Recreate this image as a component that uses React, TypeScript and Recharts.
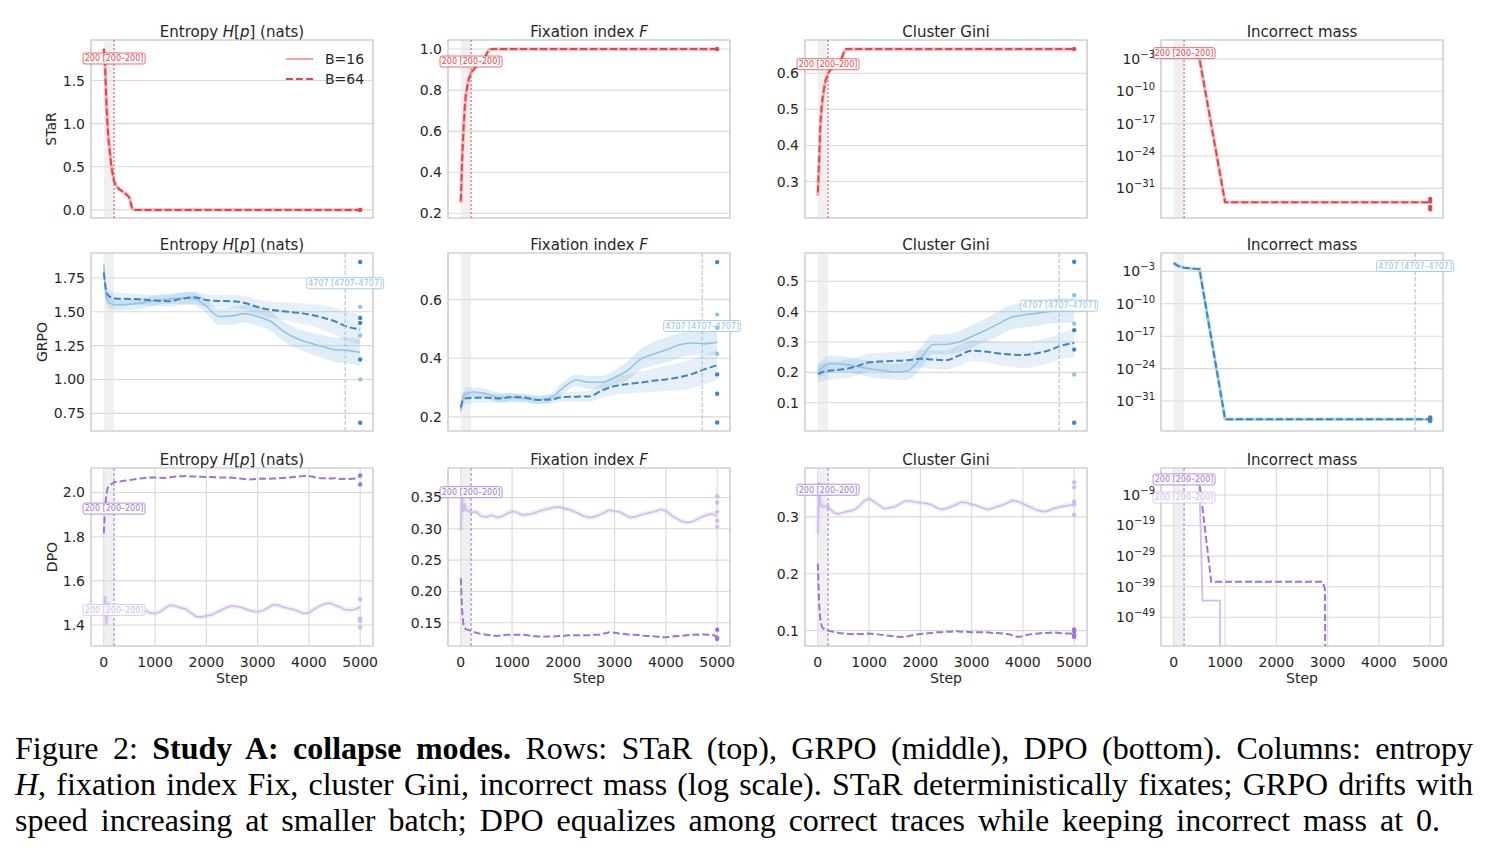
import React from "react";
import {
  ComposedChart,
  Line,
  Area,
  Scatter,
  XAxis,
  YAxis,
  CartesianGrid,
  ReferenceArea,
  ReferenceLine,
} from "recharts";

const FONT = "'DejaVu Sans', sans-serif";
const INK = "#262626";
const GRID = "#d9d9d9";
const RED = "#e3474d";
const RED_L = "#f3a3a6";
const BLUE = "#3a86c6";
const BLUE_L = "#94c3e3";
const PURPLE = "#a073d6";
const PURPLE_L = "#cfbcec";

const COL_X = [91, 448, 805, 1161];
const ROW_Y = [40, 253, 468];
const PW = 282;
const PH = 178;
const YW = 60;
const RM = 40; // room on the right so the step labels are not cut
const X_TICKS = [0, 1000, 2000, 3000, 4000, 5000];

// ---- STaR (top row)
const S_STEPS = [0, 25, 50, 75, 100, 150, 200, 250, 300, 350, 400, 450, 500, 550, 600, 1000, 2000, 3000, 4000, 5000];
const STAR_H_16 = [1.87, 1.67, 1.25, 0.96, 0.78, 0.49, 0.33, 0.27, 0.24, 0.22, 0.2, 0.175, 0.145, 0.02, 0, 0, 0, 0, 0, 0];
const STAR_H_64 = [1.87, 1.66, 1.24, 0.95, 0.77, 0.49, 0.33, 0.27, 0.24, 0.22, 0.2, 0.172, 0.14, 0.02, 0, 0, 0, 0, 0, 0];
const STAR_F_16 = [0.25, 0.45, 0.59, 0.7, 0.78, 0.85, 0.885, 0.9, 0.915, 0.925, 0.935, 0.945, 0.975, 0.997, 1, 1, 1, 1, 1, 1];
const STAR_F_64 = [0.26, 0.46, 0.6, 0.71, 0.78, 0.85, 0.885, 0.9, 0.915, 0.925, 0.935, 0.945, 0.975, 0.997, 1, 1, 1, 1, 1, 1];
const STAR_G_16 = [0.26, 0.35, 0.45, 0.5, 0.535, 0.58, 0.6, 0.61, 0.615, 0.622, 0.628, 0.635, 0.655, 0.667, 0.667, 0.667, 0.667, 0.667, 0.667, 0.667];
const STAR_G_64 = [0.27, 0.36, 0.46, 0.51, 0.54, 0.58, 0.6, 0.61, 0.615, 0.622, 0.628, 0.635, 0.655, 0.667, 0.667, 0.667, 0.667, 0.667, 0.667, 0.667];
const SM_STEPS = [0, 250, 500, 1000, 2000, 3000, 4000, 5000];
const STAR_M = [2e-1, 1e-2, 1.3e-3, 1e-34, 1e-34, 1e-34, 1e-34, 1e-34];
const STAR_END_H = [0, 0];
const STAR_END_F = [1];
const STAR_END_G = [0.667];
const STAR_END_M = [5e-34, 1.5e-34, 1e-35, 3e-36];

// ---- GRPO (middle row)
const G_STEPS = [0, 50, 100, 250, 500, 750, 1000, 1250, 1500, 1750, 2000, 2250, 2500, 2750, 3000, 3250, 3500, 3750, 4000, 4250, 4500, 4750, 5000];
const GRPO_H_64 = [1.79, 1.65, 1.615, 1.597, 1.595, 1.59, 1.583, 1.578, 1.595, 1.607, 1.587, 1.58, 1.578, 1.565, 1.535, 1.515, 1.504, 1.494, 1.48, 1.46, 1.43, 1.39, 1.37];
const GRPO_H_16 = [1.85, 1.6, 1.566, 1.55, 1.555, 1.566, 1.583, 1.595, 1.6, 1.598, 1.54, 1.465, 1.47, 1.485, 1.465, 1.43, 1.357, 1.305, 1.272, 1.245, 1.22, 1.215, 1.2];
const GRPO_H_64_HI = [1.84, 1.7, 1.66, 1.64, 1.635, 1.63, 1.625, 1.62, 1.64, 1.65, 1.63, 1.625, 1.625, 1.615, 1.59, 1.575, 1.57, 1.565, 1.56, 1.55, 1.53, 1.5, 1.48];
const GRPO_H_64_LO = [1.74, 1.6, 1.57, 1.555, 1.555, 1.55, 1.54, 1.535, 1.55, 1.56, 1.54, 1.535, 1.53, 1.515, 1.48, 1.455, 1.44, 1.42, 1.4, 1.37, 1.33, 1.28, 1.26];
const GRPO_H_16_HI = [1.9, 1.65, 1.61, 1.59, 1.595, 1.605, 1.62, 1.635, 1.645, 1.645, 1.59, 1.525, 1.535, 1.55, 1.535, 1.5, 1.43, 1.38, 1.35, 1.33, 1.31, 1.31, 1.3];
const GRPO_H_16_LO = [1.8, 1.55, 1.52, 1.51, 1.515, 1.525, 1.545, 1.555, 1.555, 1.55, 1.49, 1.405, 1.405, 1.42, 1.395, 1.36, 1.285, 1.23, 1.195, 1.16, 1.13, 1.12, 1.1];

const GRPO_F_64 = [0.232, 0.26, 0.264, 0.265, 0.265, 0.263, 0.268, 0.266, 0.258, 0.259, 0.268, 0.269, 0.27, 0.29, 0.305, 0.312, 0.317, 0.323, 0.328, 0.335, 0.346, 0.362, 0.377];
const GRPO_F_16 = [0.22, 0.27, 0.28, 0.285, 0.279, 0.266, 0.266, 0.262, 0.258, 0.265, 0.3, 0.326, 0.318, 0.318, 0.335, 0.358, 0.396, 0.414, 0.428, 0.445, 0.452, 0.45, 0.455];
const GRPO_F_64_HI = [0.25, 0.285, 0.285, 0.285, 0.282, 0.278, 0.282, 0.28, 0.272, 0.274, 0.283, 0.286, 0.29, 0.315, 0.335, 0.345, 0.355, 0.365, 0.375, 0.385, 0.395, 0.41, 0.43];
const GRPO_F_64_LO = [0.215, 0.24, 0.245, 0.247, 0.248, 0.248, 0.254, 0.252, 0.245, 0.245, 0.253, 0.252, 0.252, 0.265, 0.275, 0.28, 0.282, 0.285, 0.288, 0.29, 0.298, 0.312, 0.325];
const GRPO_F_16_HI = [0.24, 0.29, 0.3, 0.3, 0.295, 0.282, 0.28, 0.276, 0.272, 0.28, 0.32, 0.345, 0.34, 0.34, 0.36, 0.39, 0.43, 0.455, 0.47, 0.485, 0.49, 0.49, 0.495];
const GRPO_F_16_LO = [0.2, 0.25, 0.262, 0.27, 0.262, 0.25, 0.25, 0.248, 0.244, 0.25, 0.28, 0.305, 0.295, 0.295, 0.31, 0.325, 0.36, 0.375, 0.385, 0.4, 0.41, 0.41, 0.415];

const GRPO_G_64 = [0.195, 0.198, 0.202, 0.206, 0.21, 0.22, 0.233, 0.236, 0.238, 0.24, 0.245, 0.242, 0.24, 0.255, 0.271, 0.269, 0.263, 0.259, 0.257, 0.262, 0.272, 0.288, 0.297];
const GRPO_G_16 = [0.204, 0.21, 0.218, 0.229, 0.227, 0.22, 0.212, 0.206, 0.202, 0.205, 0.245, 0.292, 0.292, 0.3, 0.318, 0.337, 0.358, 0.38, 0.389, 0.394, 0.4, 0.404, 0.404];
const GRPO_G_64_HI = [0.225, 0.228, 0.232, 0.236, 0.24, 0.25, 0.262, 0.265, 0.268, 0.27, 0.275, 0.272, 0.272, 0.29, 0.305, 0.305, 0.302, 0.3, 0.3, 0.305, 0.315, 0.33, 0.345];
const GRPO_G_64_LO = [0.165, 0.168, 0.172, 0.176, 0.18, 0.19, 0.204, 0.207, 0.208, 0.21, 0.215, 0.212, 0.208, 0.22, 0.237, 0.233, 0.224, 0.218, 0.214, 0.219, 0.229, 0.246, 0.249];
const GRPO_G_16_HI = [0.23, 0.235, 0.245, 0.255, 0.252, 0.245, 0.238, 0.232, 0.228, 0.235, 0.28, 0.325, 0.325, 0.335, 0.355, 0.375, 0.4, 0.42, 0.43, 0.435, 0.44, 0.445, 0.445];
const GRPO_G_16_LO = [0.178, 0.185, 0.19, 0.203, 0.202, 0.195, 0.186, 0.18, 0.176, 0.175, 0.21, 0.26, 0.26, 0.265, 0.28, 0.3, 0.318, 0.34, 0.348, 0.353, 0.36, 0.363, 0.363];

const GM_STEPS = [0, 50, 100, 200, 300, 400, 500, 1000, 2000, 3000, 4000, 5000];
const GRPO_M = [6.3e-2, 2.5e-2, 1.26e-2, 6.3e-3, 4.5e-3, 3.5e-3, 3.2e-3, 1.26e-35, 1.26e-35, 1.26e-35, 1.26e-35, 1.26e-35];

const GRPO_END_H_64 = [1.868, 1.455, 1.418, 1.148, 0.681];
const GRPO_END_H_16 = [1.536, 1.325, 1.0];
const GRPO_END_F_64 = [0.728, 0.345, 0.279, 0.181];
const GRPO_END_F_16 = [0.549, 0.504, 0.415];
const GRPO_END_G_64 = [0.564, 0.339, 0.275, 0.034];
const GRPO_END_G_16 = [0.454, 0.36, 0.193];
const GRPO_END_M = [3e-35, 1.5e-35, 8e-36, 5e-36];

// ---- DPO (bottom row)
const D_STEPS = [
  0, 25, 50, 75, 100, 200, 300, 400, 500, 600,
  700, 800, 900, 1000, 1100, 1200, 1300, 1400, 1500, 1600,
  1700, 1800, 1900, 2000, 2100, 2200, 2300, 2400, 2500, 2600,
  2700, 2800, 2900, 3000, 3100, 3200, 3300, 3400, 3500, 3600,
  3700, 3800, 3900, 4000, 4100, 4200, 4300, 4400, 4500, 4600,
  4700, 4800, 4900, 5000,
];
const DPO_H_64 = [
  1.815, 1.93, 1.99, 2.02, 2.03, 2.047, 2.05, 2.053, 2.056, 2.06,
  2.063, 2.066, 2.068, 2.068, 2.067, 2.066, 2.069, 2.072, 2.074, 2.075,
  2.073, 2.072, 2.071, 2.07, 2.07, 2.069, 2.068, 2.068, 2.067, 2.065,
  2.062, 2.059, 2.06, 2.062, 2.063, 2.062, 2.063, 2.064, 2.066, 2.068,
  2.07, 2.072, 2.075, 2.075, 2.07, 2.066, 2.065, 2.063, 2.065, 2.061,
  2.062, 2.061, 2.063, 2.074,
];
const DPO_H_16 = [
  1.44, 1.53, 1.4, 1.5, 1.47, 1.475, 1.468, 1.472, 1.468, 1.476,
  1.478, 1.466, 1.455, 1.452, 1.46, 1.478, 1.49, 1.485, 1.478, 1.472,
  1.455, 1.438, 1.436, 1.442, 1.445, 1.458, 1.468, 1.48, 1.486, 1.484,
  1.478, 1.47, 1.462, 1.46, 1.465, 1.478, 1.492, 1.49, 1.482, 1.476,
  1.47, 1.462, 1.452, 1.455, 1.472, 1.485, 1.495, 1.5, 1.49, 1.482,
  1.47, 1.468, 1.47, 1.483,
];
const DPO_F_64 = [
  0.221, 0.17, 0.148, 0.142, 0.14, 0.137, 0.134, 0.132, 0.131, 0.13,
  0.129, 0.13, 0.131, 0.131, 0.131, 0.131, 0.13, 0.129, 0.128, 0.128,
  0.128, 0.128, 0.129, 0.129, 0.13, 0.13, 0.13, 0.13, 0.13, 0.131,
  0.131, 0.133, 0.135, 0.134, 0.133, 0.132, 0.131, 0.131, 0.13, 0.129,
  0.129, 0.128, 0.127, 0.127, 0.128, 0.129, 0.129, 0.13, 0.131, 0.131,
  0.132, 0.131, 0.131, 0.128,
];
const DPO_F_16 = [
  0.298, 0.354, 0.327, 0.34, 0.33, 0.326, 0.327, 0.32, 0.319, 0.322,
  0.318, 0.32, 0.324, 0.328, 0.326, 0.322, 0.323, 0.324, 0.327, 0.33,
  0.332, 0.334, 0.335, 0.333, 0.331, 0.328, 0.324, 0.32, 0.318, 0.319,
  0.322, 0.326, 0.33, 0.328, 0.327, 0.322, 0.318, 0.319, 0.322, 0.324,
  0.326, 0.328, 0.331, 0.329, 0.322, 0.317, 0.312, 0.31, 0.311, 0.315,
  0.319, 0.322, 0.324, 0.32,
];
const DPO_G_64 = [
  0.218, 0.15, 0.118, 0.108, 0.104, 0.1, 0.098, 0.096, 0.095, 0.094,
  0.094, 0.094, 0.094, 0.095, 0.094, 0.093, 0.092, 0.091, 0.09, 0.089,
  0.089, 0.091, 0.093, 0.094, 0.095, 0.096, 0.097, 0.097, 0.098, 0.098,
  0.099, 0.098, 0.098, 0.097, 0.097, 0.097, 0.097, 0.096, 0.096, 0.095,
  0.094, 0.092, 0.089, 0.09, 0.093, 0.094, 0.095, 0.096, 0.096, 0.097,
  0.096, 0.095, 0.095, 0.094,
];
const DPO_G_16 = [
  0.271, 0.361, 0.32, 0.322, 0.318, 0.318, 0.308, 0.305, 0.308, 0.31,
  0.312, 0.318, 0.328, 0.332, 0.327, 0.32, 0.314, 0.316, 0.318, 0.323,
  0.328, 0.328, 0.326, 0.325, 0.324, 0.322, 0.317, 0.313, 0.315, 0.318,
  0.322, 0.326, 0.325, 0.322, 0.32, 0.316, 0.313, 0.315, 0.318, 0.321,
  0.325, 0.329, 0.327, 0.323, 0.319, 0.315, 0.311, 0.309, 0.311, 0.315,
  0.317, 0.319, 0.32, 0.322,
];
const DM16_STEPS = [0, 250, 500, 560, 900, 910];
const DPO_M_16 = [1e-3, 3e-4, 1e-6, 3e-44, 3e-44, 1e-300];
const DM64_STEPS = [0, 250, 500, 730, 2900, 2950, 2970];
const DPO_M_64 = [1e-3, 3e-4, 1e-5, 4e-38, 4e-38, 1.6e-40, 1e-300];

const DPO_END_H_64 = [2.077, 2.036];
const DPO_END_H_16 = [1.517, 1.43, 1.418, 1.39];
const DPO_END_F_64 = [0.139, 0.126, 0.124];
const DPO_END_F_16 = [0.352, 0.342, 0.327, 0.313, 0.303];
const DPO_END_G_64 = [0.102, 0.098, 0.092, 0.089];
const DPO_END_G_16 = [0.361, 0.352, 0.327, 0.322, 0.304];

type Pt = { step: number; v: number };
type BandPt = { step: number; lo: number; hi: number };

const pts = (steps: number[], vals: number[]): Pt[] => steps.map((s, i) => ({ step: s, v: vals[i] }));
const band = (steps: number[], lo: number[], hi: number[]): BandPt[] =>
  steps.map((s, i) => ({ step: s, lo: lo[i], hi: hi[i] }));
const ends = (vals: number[]): Pt[] => vals.map((v) => ({ step: 5000, v }));
const pow10 = (e: number) => Math.pow(10, e);

interface LineSpec { data: Pt[]; color: string; dash?: string; width: number; opacity?: number; curve?: "monotone" | "linear" }
interface BandSpec { data: BandPt[]; color: string; opacity: number }
interface DotSpec { data: Pt[]; color: string }
interface BoxSpec { text: string; frac: number; color: string; w: number }
interface MarkSpec { x: number; color: string; dash: string; boxes: BoxSpec[] }

function LogTick(props: any) {
  const { x, y, payload } = props;
  const e = Math.round(Math.log10(payload.value));
  return (
    <text x={x} y={y} textAnchor="end" fill={INK} fontFamily={FONT} fontSize={14}>
      <tspan dy="0.35em">10</tspan>
      <tspan dy="-0.6em" fontSize={10}>{"\u2212" + Math.abs(e)}</tspan>
    </text>
  );
}

function Boxes({ viewBox, boxes }: any) {
  const { x, y, height } = viewBox;
  return (
    <g>
      {boxes.map((b: BoxSpec, i: number) => {
        const cy = y + b.frac * height;
        return (
          <g key={i}>
            <rect x={x - b.w / 2} y={cy - 5.5} width={b.w} height={11} rx={2} fill="#fff" fillOpacity={0.88} stroke={b.color} strokeWidth={0.8} />
            <text x={x} y={cy} dy="0.35em" textAnchor="middle" fontSize={8} fontFamily={FONT} fill={b.color}>
              {b.text}
            </text>
          </g>
        );
      })}
    </g>
  );
}

interface PanelProps {
  row: number;
  col: number;
  domain: [number, number];
  ticks: number[];
  fmt?: (v: number) => string;
  log?: boolean;
  lines: LineSpec[];
  bands?: BandSpec[];
  dots?: DotSpec[];
  marks?: MarkSpec[];
}

function Panel({ row, col, domain, ticks, fmt, log, lines, bands = [], dots = [], marks = [] }: PanelProps) {
  const showX = row === 2;
  const xh = showX ? 26 : 0;
  const tickStyle = { fill: INK, fontSize: 14, fontFamily: FONT };
  return (
    <div style={{ position: "absolute", left: COL_X[col] - YW, top: ROW_Y[row] - 2 }}>
      <ComposedChart width={YW + PW + RM} height={PH + 4 + xh} margin={{ top: 2, right: RM, bottom: 2, left: 0 }}>
        <CartesianGrid stroke={GRID} strokeWidth={1.1} />
        <XAxis
          type="number"
          dataKey="step"
          domain={[-250, 5250]}
          ticks={X_TICKS}
          allowDataOverflow
          height={xh}
          tick={showX ? tickStyle : false}
          tickLine={false}
          axisLine={false}
          tickSize={0}
          tickMargin={11}
          interval={0}
        />
        <YAxis
          type="number"
          width={YW}
          domain={domain}
          ticks={ticks}
          scale={log ? "log" : "auto"}
          allowDataOverflow
          tickLine={false}
          axisLine={false}
          tickSize={0}
          tickMargin={6}
          interval={0}
          tick={log ? (p: any) => <LogTick {...p} /> : tickStyle}
          tickFormatter={fmt}
        />
        <ReferenceArea x1={0} x2={200} fill="#e4e4e4" fillOpacity={0.55} stroke="none" />
        {bands.map((b, i) => (
          <Area
            key={"b" + i}
            data={b.data}
            dataKey={(d: BandPt) => [d.lo, d.hi]}
            type="monotone"
            stroke="none"
            fill={b.color}
            fillOpacity={b.opacity}
            isAnimationActive={false}
          />
        ))}
        {lines.map((l, i) => (
          <Line
            key={"l" + i}
            data={l.data}
            dataKey="v"
            type={l.curve || "monotone"}
            stroke={l.color}
            strokeWidth={l.width}
            strokeOpacity={l.opacity ?? 1}
            strokeDasharray={l.dash}
            dot={false}
            activeDot={false}
            isAnimationActive={false}
          />
        ))}
        {dots.map((d, i) => (
          <Scatter
            key={"d" + i}
            data={d.data}
            dataKey="v"
            fill={d.color}
            isAnimationActive={false}
            shape={(p: any) => <circle cx={p.cx} cy={p.cy} r={2.2} fill={d.color} />}
          />
        ))}
        {marks.map((m, i) => (
          <ReferenceLine
            key={"m" + i}
            x={m.x}
            stroke={m.color}
            strokeDasharray={m.dash}
            strokeWidth={1}
            label={(p: any) => <Boxes viewBox={p.viewBox} boxes={m.boxes} />}
          />
        ))}
        <ReferenceArea x1={-250} x2={5250} fill="none" stroke="#cccccc" strokeWidth={1.2} />
      </ComposedChart>
    </div>
  );
}

const f1 = (v: number) => v.toFixed(1);
const f2 = (v: number) => v.toFixed(2);

const TITLES = [
  <>Entropy <i>H</i>[<i>p</i>] (nats)</>,
  <>Fixation index <i>F</i></>,
  <>Cluster Gini</>,
  <>Incorrect mass</>,
];
const ROW_NAMES = ["STaR", "GRPO", "DPO"];
const ROW_NAME_X = [51, 42, 52];

const lbl200 = (color: string, frac: number): BoxSpec => ({ text: "200 [200\u2013200]", frac, color, w: 62 });
const lbl4707 = (frac: number): BoxSpec => ({ text: "4707 [4707\u20134707]", frac, color: BLUE_L, w: 77 });

const starLines = (s16: number[], s64: number[], steps = S_STEPS): LineSpec[] => [
  { data: pts(steps, s16), color: RED_L, width: 3.2, opacity: 0.8, curve: "linear" },
  { data: pts(steps, s64), color: RED, width: 2, dash: "7 3", curve: "linear" },
];

export default function App() {
  const panels: PanelProps[] = [
    // STaR
    {
      row: 0, col: 0, domain: [-0.094, 1.97], ticks: [0, 0.5, 1, 1.5], fmt: f1,
      lines: starLines(STAR_H_16, STAR_H_64),
      dots: [{ data: ends(STAR_END_H), color: RED }],
      marks: [{ x: 200, color: RED, dash: "2 2", boxes: [lbl200(RED, 0.104)] }],
    },
    {
      row: 0, col: 1, domain: [0.177, 1.044], ticks: [0.2, 0.4, 0.6, 0.8, 1.0], fmt: f1,
      lines: starLines(STAR_F_16, STAR_F_64),
      dots: [{ data: ends(STAR_END_F), color: RED }],
      marks: [{ x: 200, color: RED, dash: "2 2", boxes: [lbl200(RED, 0.121)] }],
    },
    {
      row: 0, col: 2, domain: [0.199, 0.692], ticks: [0.3, 0.4, 0.5, 0.6], fmt: f1,
      lines: starLines(STAR_G_16, STAR_G_64),
      dots: [{ data: ends(STAR_END_G), color: RED }],
      marks: [{ x: 200, color: RED, dash: "2 2", boxes: [lbl200(RED, 0.136)] }],
    },
    {
      row: 0, col: 3, domain: [pow10(-37.4), pow10(1.08)], ticks: [1e-31, 1e-24, 1e-17, 1e-10, 1e-3], log: true,
      lines: starLines(STAR_M, STAR_M, SM_STEPS),
      dots: [{ data: ends(STAR_END_M), color: RED }],
      marks: [{ x: 200, color: RED, dash: "2 2", boxes: [lbl200(RED, 0.074)] }],
    },
    // GRPO
    {
      row: 1, col: 0, domain: [0.62, 1.934], ticks: [0.75, 1.0, 1.25, 1.5, 1.75], fmt: f2,
      bands: [
        { data: band(G_STEPS, GRPO_H_16_LO, GRPO_H_16_HI), color: BLUE_L, opacity: 0.3 },
        { data: band(G_STEPS, GRPO_H_64_LO, GRPO_H_64_HI), color: BLUE, opacity: 0.12 },
      ],
      lines: [
        { data: pts(G_STEPS, GRPO_H_16), color: BLUE_L, width: 1.6 },
        { data: pts(G_STEPS, GRPO_H_64), color: BLUE, width: 2, dash: "7 3" },
      ],
      dots: [
        { data: ends(GRPO_END_H_16), color: BLUE_L },
        { data: ends(GRPO_END_H_64), color: BLUE },
      ],
      marks: [{ x: 4707, color: BLUE_L, dash: "4 2", boxes: [lbl4707(0.17)] }],
    },
    {
      row: 1, col: 1, domain: [0.152, 0.759], ticks: [0.2, 0.4, 0.6], fmt: f1,
      bands: [
        { data: band(G_STEPS, GRPO_F_16_LO, GRPO_F_16_HI), color: BLUE_L, opacity: 0.3 },
        { data: band(G_STEPS, GRPO_F_64_LO, GRPO_F_64_HI), color: BLUE, opacity: 0.12 },
      ],
      lines: [
        { data: pts(G_STEPS, GRPO_F_16), color: BLUE_L, width: 1.6 },
        { data: pts(G_STEPS, GRPO_F_64), color: BLUE, width: 2, dash: "7 3" },
      ],
      dots: [
        { data: ends(GRPO_END_F_16), color: BLUE_L },
        { data: ends(GRPO_END_F_64), color: BLUE },
      ],
      marks: [{ x: 4707, color: BLUE_L, dash: "4 2", boxes: [lbl4707(0.41)] }],
    },
    {
      row: 1, col: 2, domain: [0.007, 0.593], ticks: [0.1, 0.2, 0.3, 0.4, 0.5], fmt: f1,
      bands: [
        { data: band(G_STEPS, GRPO_G_16_LO, GRPO_G_16_HI), color: BLUE_L, opacity: 0.3 },
        { data: band(G_STEPS, GRPO_G_64_LO, GRPO_G_64_HI), color: BLUE, opacity: 0.12 },
      ],
      lines: [
        { data: pts(G_STEPS, GRPO_G_16), color: BLUE_L, width: 1.6 },
        { data: pts(G_STEPS, GRPO_G_64), color: BLUE, width: 2, dash: "7 3" },
      ],
      dots: [
        { data: ends(GRPO_END_G_16), color: BLUE_L },
        { data: ends(GRPO_END_G_64), color: BLUE },
      ],
      marks: [{ x: 4707, color: BLUE_L, dash: "4 2", boxes: [lbl4707(0.296)] }],
    },
    {
      row: 1, col: 3, domain: [pow10(-37.46), pow10(0.96)], ticks: [1e-31, 1e-24, 1e-17, 1e-10, 1e-3], log: true,
      lines: [
        { data: pts(GM_STEPS, GRPO_M), color: BLUE_L, width: 3, opacity: 0.8, curve: "linear" },
        { data: pts(GM_STEPS, GRPO_M), color: BLUE, width: 2, dash: "7 3", curve: "linear" },
      ],
      dots: [{ data: ends(GRPO_END_M), color: BLUE }],
      marks: [{ x: 4707, color: BLUE_L, dash: "4 2", boxes: [lbl4707(0.073)] }],
    },
    // DPO
    {
      row: 2, col: 0, domain: [1.305, 2.111], ticks: [1.4, 1.6, 1.8, 2.0], fmt: f1,
      lines: [
        { data: pts(D_STEPS, DPO_H_16), color: PURPLE_L, width: 5, opacity: 0.25, curve: "linear" },
        { data: pts(D_STEPS, DPO_H_16), color: PURPLE_L, width: 1.6, curve: "linear" },
        { data: pts(D_STEPS, DPO_H_64), color: PURPLE, width: 2, dash: "7 3", curve: "linear" },
      ],
      dots: [
        { data: ends(DPO_END_H_16), color: PURPLE_L },
        { data: ends(DPO_END_H_64), color: PURPLE },
      ],
      marks: [{ x: 200, color: PURPLE, dash: "3 2", boxes: [lbl200(PURPLE, 0.228), lbl200(PURPLE_L, 0.797)] }],
    },
    {
      row: 2, col: 1, domain: [0.113, 0.397], ticks: [0.15, 0.2, 0.25, 0.3, 0.35], fmt: f2,
      lines: [
        { data: pts(D_STEPS, DPO_F_16), color: PURPLE_L, width: 5, opacity: 0.25, curve: "linear" },
        { data: pts(D_STEPS, DPO_F_16), color: PURPLE_L, width: 1.6, curve: "linear" },
        { data: pts(D_STEPS, DPO_F_64), color: PURPLE, width: 2, dash: "7 3", curve: "linear" },
      ],
      dots: [
        { data: ends(DPO_END_F_16), color: PURPLE_L },
        { data: ends(DPO_END_F_64), color: PURPLE },
      ],
      marks: [{ x: 200, color: PURPLE, dash: "3 2", boxes: [lbl200(PURPLE, 0.136)] }],
    },
    {
      row: 2, col: 2, domain: [0.073, 0.386], ticks: [0.1, 0.2, 0.3], fmt: f1,
      lines: [
        { data: pts(D_STEPS, DPO_G_16), color: PURPLE_L, width: 5, opacity: 0.25, curve: "linear" },
        { data: pts(D_STEPS, DPO_G_16), color: PURPLE_L, width: 1.6, curve: "linear" },
        { data: pts(D_STEPS, DPO_G_64), color: PURPLE, width: 2, dash: "7 3", curve: "linear" },
      ],
      dots: [
        { data: ends(DPO_END_G_16), color: PURPLE_L },
        { data: ends(DPO_END_G_64), color: PURPLE },
      ],
      marks: [{ x: 200, color: PURPLE, dash: "3 2", boxes: [lbl200(PURPLE, 0.122)] }],
    },
    {
      row: 2, col: 3, domain: [pow10(-58.4), pow10(-0.16)], ticks: [1e-49, 1e-39, 1e-29, 1e-19, 1e-9], log: true,
      lines: [
        { data: pts(DM16_STEPS, DPO_M_16), color: PURPLE_L, width: 1.8, curve: "linear" },
        { data: pts(DM64_STEPS, DPO_M_64), color: PURPLE, width: 2, dash: "7 3", curve: "linear" },
      ],
      marks: [{ x: 200, color: PURPLE, dash: "3 2", boxes: [lbl200(PURPLE, 0.064), lbl200(PURPLE_L, 0.166)] }],
    },
  ];

  const text = { fontFamily: FONT, color: INK, fontSize: 14, lineHeight: "16px" } as const;
  const serif = { fontFamily: "'Liberation Serif', 'DejaVu Serif', serif", fontSize: 32, lineHeight: "36px", color: "#000", textAlign: "justify", textAlignLast: "justify", position: "absolute", left: 15 } as const;

  return (
    <div style={{ position: "absolute", left: 0, top: 0, width: 1489, height: 851, background: "#fff", overflow: "hidden" }}>
      {panels.map((p, i) => (
        <Panel key={i} {...p} />
      ))}
      {ROW_Y.map((y, r) =>
        COL_X.map((x, c) => (
          <div key={`t${r}${c}`} style={{ ...text, fontSize: 15, position: "absolute", left: x, width: PW, top: y - 16.5, textAlign: "center" }}>
            {TITLES[c]}
          </div>
        ))
      )}
      {ROW_NAMES.map((n, r) => (
        <div
          key={n}
          style={{ ...text, position: "absolute", left: ROW_NAME_X[r] - 50, width: 100, top: ROW_Y[r] + PH / 2 - 8, textAlign: "center", transform: "rotate(-90deg)" }}
        >
          {n}
        </div>
      ))}
      {COL_X.map((x, c) => (
        <div key={`s${c}`} style={{ ...text, position: "absolute", left: x, width: PW, top: 670, textAlign: "center" }}>
          Step
        </div>
      ))}
      <svg style={{ position: "absolute", left: 284, top: 48 }} width={90} height={42}>
        <line x1={2} x2={29} y1={11} y2={11} stroke={RED_L} strokeWidth={2} />
        <line x1={2} x2={29} y1={31} y2={31} stroke={RED} strokeWidth={2} strokeDasharray="7 3" />
        <text x={41} y={11} dy="0.35em" fontSize={14} fontFamily={FONT} fill={INK}>B=16</text>
        <text x={41} y={31} dy="0.35em" fontSize={14} fontFamily={FONT} fill={INK}>B=64</text>
      </svg>
      <div style={{ ...serif, top: 730, width: 1458 }}>
        Figure 2: <b>Study A: collapse modes.</b> Rows: STaR (top), GRPO (middle), DPO (bottom). Columns: entropy
      </div>
      <div style={{ ...serif, top: 766, width: 1458 }}>
        <i>H</i>, fixation index Fix, cluster Gini, incorrect mass (log scale). STaR deterministically fixates; GRPO drifts with
      </div>
      <div style={{ ...serif, top: 802, width: 1425 }}>
        speed increasing at smaller batch; DPO equalizes among correct traces while keeping incorrect mass at 0.
      </div>
    </div>
  );
}
